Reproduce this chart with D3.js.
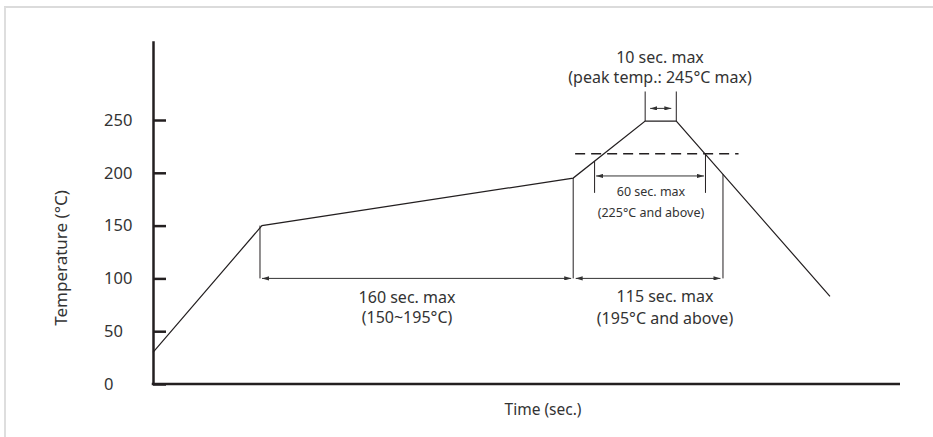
<!DOCTYPE html>
<html>
<head>
<meta charset="utf-8">
<script src="https://cdn.jsdelivr.net/npm/d3@7"></script>
<style>
  body { margin: 0; background: #fff; }
  text { font-family: "Noto Sans", "Open Sans", sans-serif; fill: #333; }
</style>
</head>
<body>
<svg id="chart" width="933" height="437"></svg>
<script>
// reflow profile (time in schematic seconds, temp in °C)
var profileTime = [0, 56, 216, 253, 269, 348];
var profileTemp = [30, 150, 195, 249, 249, 83];

var tempTicks = [0, 50, 100, 150, 200, 250];

// dimension marks: [t0, t1] spans and the level of their arrows
var preheatSpan = [55, 216], preheatArrowTemp = 100;
var aboveSpan = [216, 293], aboveArrowTemp = 100;
var sixtySpan = [227, 284], sixtyArrowTemp = 197, sixtyBottom = 181;
var peakSpan = [253, 269], peakArrowTemp = 261, peakTop = 277;
var dashTemp = 218, dashSpan = [217, 301];

var svg = d3.select("#chart");

// light frame, only top and left edges show in the crop
svg.append("line").attr("x1", 4).attr("x2", 933).attr("y1", 7).attr("y2", 7)
  .attr("stroke", "#cfcfcf").attr("stroke-width", 1.5);
svg.append("line").attr("x1", 5).attr("x2", 5).attr("y1", 7).attr("y2", 437)
  .attr("stroke", "#dedede").attr("stroke-width", 2);

var x = d3.scaleLinear().domain([0, 384]).range([153, 900]);
var y = d3.scaleLinear().domain([0, 325]).range([384, 40.8]);

// arrowheads
var defs = svg.append("defs");
defs.append("marker").attr("id", "arr")
  .attr("viewBox", "0 0 10 6").attr("refX", 10).attr("refY", 3)
  .attr("markerWidth", 7).attr("markerHeight", 4.2)
  .attr("markerUnits", "userSpaceOnUse")
  .attr("orient", "auto-start-reverse")
  .append("path").attr("d", "M0,0L10,3L0,6Z").attr("fill", "#333");

// y axis
var yAxis = d3.axisLeft(y).tickValues(tempTicks).tickSize(-13).tickSizeOuter(0);
var gy = svg.append("g").attr("transform", "translate(153,0)").call(yAxis);
gy.select(".domain").attr("stroke", "#231f20").attr("stroke-width", 2.5);
gy.selectAll(".tick line").attr("stroke", "#231f20").attr("stroke-width", 2.5);
gy.selectAll(".tick text")
  .attr("x", -49).attr("text-anchor", "start")
  .style("font-family", '"Noto Sans", sans-serif')
  .style("font-size", "16.5px").style("fill", "#333");

// x axis
svg.append("line")
  .attr("x1", x(0) - 1.25).attr("x2", x(384))
  .attr("y1", y(0)).attr("y2", y(0))
  .attr("stroke", "#231f20").attr("stroke-width", 2.5);

// axis titles
svg.append("text").attr("x", 543).attr("y", 415)
  .attr("text-anchor", "middle").style("font-size", "15.5px")
  .text("Time (sec.)");
svg.append("text")
  .attr("transform", "translate(67,258) rotate(-90)")
  .attr("text-anchor", "middle").style("font-size", "17px")
  .text("Temperature (°C)");

// profile
var pts = profileTime.map(function(t, i) { return [t, profileTemp[i]]; });
var line = d3.line().x(function(d) { return x(d[0]); }).y(function(d) { return y(d[1]); });
svg.append("path").datum(pts).attr("d", line)
  .attr("fill", "none").attr("stroke", "#231f20").attr("stroke-width", 1.2);

function tempAt(t) {
  return d3.scaleLinear().domain(profileTime).range(profileTemp)(t);
}

function vline(t, temp0, temp1) {
  svg.append("line")
    .attr("x1", x(t)).attr("x2", x(t))
    .attr("y1", y(temp0)).attr("y2", y(temp1))
    .attr("stroke", "#231f20").attr("stroke-width", 1);
}
function arrow(t0, t1, temp, gap) {
  svg.append("line")
    .attr("x1", x(t0) + gap).attr("x2", x(t1) - gap)
    .attr("y1", y(temp)).attr("y2", y(temp))
    .attr("stroke", "#333").attr("stroke-width", 1)
    .attr("marker-start", "url(#arr)").attr("marker-end", "url(#arr)");
}

// 160 sec preheat
vline(preheatSpan[0], tempAt(preheatSpan[0] + 1), preheatArrowTemp);
vline(preheatSpan[1], tempAt(preheatSpan[1]), preheatArrowTemp);
arrow(preheatSpan[0], preheatSpan[1], preheatArrowTemp, 2);

// 115 sec above 195
vline(aboveSpan[1], tempAt(aboveSpan[1]), aboveArrowTemp);
arrow(aboveSpan[0], aboveSpan[1], aboveArrowTemp, 2.5);

// 60 sec above 225
vline(sixtySpan[0], tempAt(sixtySpan[0]), sixtyBottom);
vline(sixtySpan[1], tempAt(sixtySpan[1]), sixtyBottom);
arrow(sixtySpan[0], sixtySpan[1], sixtyArrowTemp, 1.5);

// 10 sec at peak
function peakTemp() { return d3.max(profileTemp); }
vline(peakSpan[0], peakTemp(), peakTop);
vline(peakSpan[1], peakTemp(), peakTop);
arrow(peakSpan[0], peakSpan[1], peakArrowTemp, 5);

// dashed level
svg.append("line")
  .attr("x1", x(dashSpan[0])).attr("x2", x(dashSpan[1]))
  .attr("y1", y(dashTemp)).attr("y2", y(dashTemp))
  .attr("stroke", "#231f20").attr("stroke-width", 1.5)
  .attr("stroke-dasharray", "10,6");

// annotations
function label(px, py, size, anchor, str) {
  svg.append("text").attr("x", px).attr("y", py)
    .attr("text-anchor", anchor).style("font-size", size + "px").text(str);
}
label(660, 63, 16, "middle", "10 sec. max");
label(660, 83, 16, "middle", "(peak temp.: 245°C max)");
label(651, 196, 12.5, "middle", "60 sec. max");
label(651, 217, 12.5, "middle", "(225°C and above)");
label(407, 303, 16, "middle", "160 sec. max");
label(407, 323, 16, "middle", "(150~195°C)");
label(665, 302, 16, "middle", "115 sec. max");
label(665, 324, 16, "middle", "(195°C and above)");
</script>
</body>
</html>
